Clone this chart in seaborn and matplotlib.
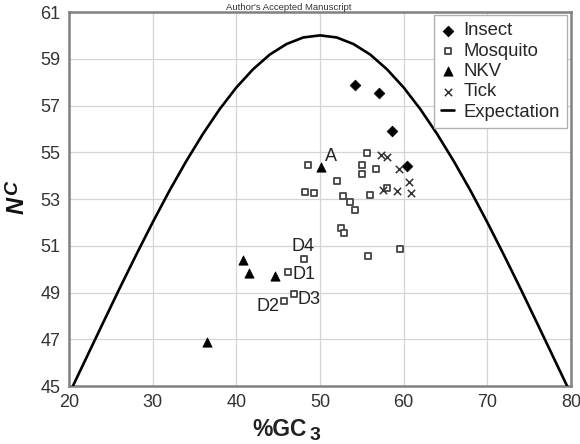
import matplotlib
matplotlib.use("Agg")
import matplotlib.pyplot as plt
import seaborn as sns

# ---- data ----
insect_gc3 = [54.15, 57.09, 58.60, 60.36]
insect_nc = [57.89, 57.52, 55.90, 54.43]

mosquito_gc3 = [55.65, 48.53, 55.02, 56.73, 55.02, 52.07, 48.24, 49.25, 52.71, 56.01,
                58.04, 53.62, 54.18, 52.47, 52.90, 48.09, 55.74, 59.52, 46.21, 45.73, 46.89]
mosquito_nc = [54.98, 54.47, 54.44, 54.28, 54.06, 53.77, 53.29, 53.24, 53.13, 53.17,
               53.45, 52.87, 52.53, 51.77, 51.55, 50.43, 50.55, 50.88, 49.86, 48.64, 48.94]

nkv_gc3 = [50.15, 40.76, 41.55, 44.66, 36.46]
nkv_nc = [54.36, 50.39, 49.82, 49.72, 46.87]

tick_gc3 = [57.33, 58.01, 59.44, 60.67, 57.56, 59.17, 60.87]
tick_nc = [54.87, 54.79, 54.30, 53.74, 53.38, 53.34, 53.26]

expect_gc3 = [20, 22, 24, 26, 28, 30, 32, 34, 36, 38, 40, 42, 44, 46, 48, 50,
              52, 54, 56, 58, 60, 62, 64, 66, 68, 70, 72, 74, 76, 78, 80]
expect_nc = [44.65, 46.15, 47.65, 49.14, 50.59, 52.00, 53.35, 54.61, 55.78, 56.84,
             57.77, 58.55, 59.18, 59.63, 59.91, 60.00, 59.91, 59.63, 59.18, 58.55,
             57.77, 56.84, 55.78, 54.61, 53.35, 52.00, 50.59, 49.14, 47.65, 46.15, 44.65]

point_labels = ["A", "D4", "D1", "D2", "D3"]
label_gc3 = [51.31, 48.00, 48.09, 43.78, 48.65]
label_nc = [54.80, 50.96, 49.75, 48.42, 48.68]

x_ticks = [20, 30, 40, 50, 60, 70, 80]
y_ticks = [45, 47, 49, 51, 53, 55, 57, 59, 61]

# ---- style ----
sns.set_theme(style="whitegrid")
plt.rcParams["font.family"] = ["Liberation Sans", "DejaVu Sans"]

fig = plt.figure(figsize=(5.8, 4.44), dpi=100)
ax = fig.add_axes([69 / 580, 1 - 386 / 444, (571 - 69) / 580, (386 - 12) / 444])
ax.set_facecolor("white")

sns.lineplot(x=expect_gc3, y=expect_nc, color="black", linewidth=1.9,
             label="Expectation", ax=ax, zorder=3)
sns.scatterplot(x=insect_gc3, y=insect_nc, marker="D", color="black", s=30,
                edgecolor="black", linewidth=0.5, label="Insect", ax=ax, zorder=4)
sns.scatterplot(x=mosquito_gc3, y=mosquito_nc, marker="s", color="white", s=16,
                edgecolor="#444444", linewidth=1.3, label="Mosquito", ax=ax, zorder=4)
sns.scatterplot(x=nkv_gc3, y=nkv_nc, marker="^", color="black", s=45,
                edgecolor="black", linewidth=0.5, label="NKV", ax=ax, zorder=4)
sns.scatterplot(x=tick_gc3, y=tick_nc, marker="x", color="#333333", s=28,
                linewidth=1.1, label="Tick", ax=ax, zorder=4)

for t, xv, yv in zip(point_labels, label_gc3, label_nc):
    ax.text(xv, yv, t, fontsize=13, color="#222222", ha="center", va="center", zorder=5)

ax.set_xlim(20, 80)
ax.set_ylim(45, 61)
ax.set_xticks(x_ticks)
ax.set_yticks(y_ticks)
ax.grid(True, color="#d4d4d4", linewidth=0.9)
ax.set_axisbelow(True)
for sp in ax.spines.values():
    sp.set_visible(True)
    sp.set_color("#808080")
    sp.set_linewidth(1.8)
ax.tick_params(axis="both", labelsize=13, colors="#808080", labelcolor="#333333",
               length=3, width=1, direction="out", pad=3)
ax.set_xlabel("")
ax.set_ylabel("")

# legend
handles, labels = ax.get_legend_handles_labels()
order = ["Insect", "Mosquito", "NKV", "Tick", "Expectation"]
hmap = dict(zip(labels, handles))
leg = ax.legend([hmap[k] for k in order], order, loc="upper right",
                bbox_to_anchor=((567 - 69) / 502, (386 - 15) / 374), borderaxespad=0,
                fontsize=13.3, frameon=True, fancybox=False, framealpha=1,
                edgecolor="#b0b0b0", handlelength=0.7, handletextpad=0.5,
                borderpad=0.4, labelspacing=0.18)
leg.get_frame().set_linewidth(1.0)

# axis labels (pseudo-subscripts at near full size as in the reference)
fig.text(307 / 580, 1 - 436 / 444, "%GC", fontsize=16.5, fontweight="bold",
         ha="right", va="baseline", color="#222222")
fig.text(310 / 580, 1 - 440 / 444, "3", fontsize=14, fontweight="bold",
         ha="left", va="baseline", color="#222222")
fig.text(17 / 580, 1 - 206 / 444, "N", fontsize=17, fontweight="bold", style="italic",
         rotation=90, ha="center", va="center", color="#111111")
fig.text(13 / 580, 1 - 188 / 444, "C", fontsize=14, fontweight="bold", style="italic",
         rotation=90, ha="center", va="center", color="#111111")

fig.text(289 / 580, 1 - 9.5 / 444, "Author's Accepted Manuscript", fontsize=6.8,
         ha="center", va="baseline", color="#333333")

fig.savefig("out.png", dpi=100)
